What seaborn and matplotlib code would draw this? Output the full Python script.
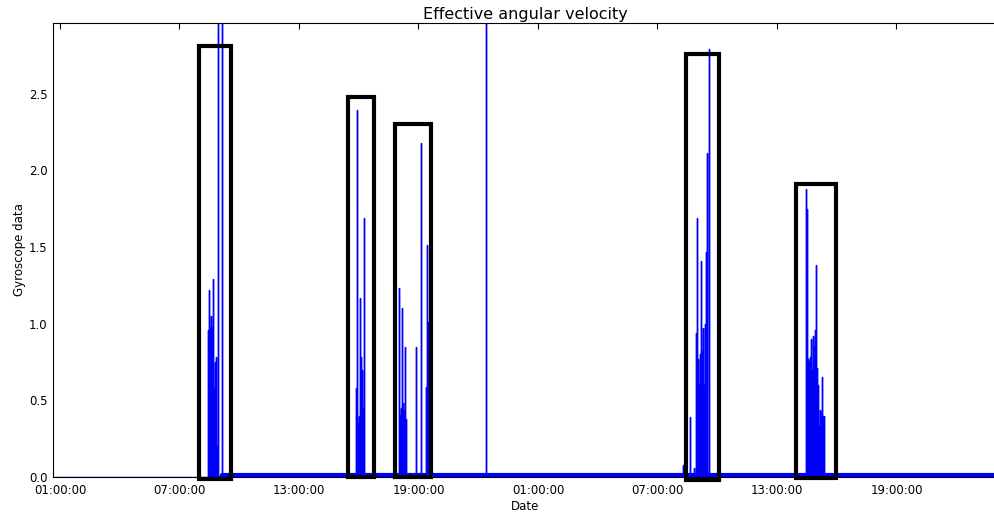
import numpy as np
import pandas as pd
import matplotlib
matplotlib.use("Agg")
import matplotlib.pyplot as plt
import matplotlib.dates as mdates
from matplotlib.patches import Rectangle
import seaborn as sns

# ---------------- data (hours after 01:00 of day 1) ----------------
start = pd.Timestamp("2016-01-01 01:00:00")

c1_t = [7.43, 7.46, 7.49, 7.52, 7.55, 7.58, 7.61, 7.64, 7.67, 7.70, 7.73, 7.76, 7.79, 7.82, 7.85, 7.88, 7.96, 8.13]
c1_v = [0.96, 1.22, 1.04, 0.97, 0.96, 1.05, 0.52, 0.97, 1.29, 0.90, 0.58, 0.60, 0.75, 0.78, 0.50, 0.20, 3.20, 3.20]

c2_t = [14.88, 14.92, 14.95, 14.99, 15.02, 15.05, 15.09, 15.12, 15.16, 15.19, 15.23, 15.26]
c2_v = [0.58, 2.39, 0.35, 0.35, 0.40, 1.17, 1.17, 0.78, 0.70, 0.35, 0.45, 1.69]

c3_t = [17.02, 17.06, 17.09, 17.13, 17.16, 17.19, 17.23, 17.26, 17.29, 17.32, 17.36, 17.39,
        17.90, 18.13, 18.36, 18.41, 18.45, 18.50]
c3_v = [1.23, 0.36, 0.40, 0.45, 0.48, 1.10, 0.48, 0.40, 0.43, 0.85, 0.38, 0.30,
        0.85, 2.18, 0.59, 0.59, 1.51, 1.01]

single_t = [21.37]
single_v = [3.20]

c4_t = [31.28, 31.61, 31.65, 31.86, 31.96, 32.00, 32.03, 32.07, 32.10, 32.14, 32.17, 32.21,
        32.24, 32.28, 32.31, 32.35, 32.38, 32.42, 32.45, 32.48, 32.59]
c4_v = [0.08, 0.39, 0.33, 0.06, 0.94, 1.69, 0.77, 0.60, 0.58, 0.80, 1.41, 0.60,
        0.82, 0.97, 0.96, 0.60, 1.00, 1.47, 0.97, 2.11, 2.79]

c5_t = [37.45, 37.48, 37.51, 37.55, 37.58, 37.62, 37.65, 37.69, 37.72, 37.76, 37.79, 37.83,
        37.86, 37.90, 37.94, 37.97, 38.00, 38.04, 38.07, 38.10, 38.14, 38.17, 38.21, 38.24,
        38.28, 38.31, 38.35, 38.37]
c5_v = [0.30, 1.88, 1.75, 0.70, 0.77, 0.75, 0.78, 0.90, 0.85, 0.70, 0.72, 0.92,
        0.85, 0.96, 1.38, 0.70, 0.71, 0.60, 0.55, 0.33, 0.44, 0.32, 0.42, 0.30,
        0.65, 0.40, 0.33, 0.40]

# resting level of the sensor
quiet_t = [-0.35, 8.13]
quiet_v = [0.003, 0.003]
noise_t = [8.13, 47.10]
noise_v = [0.012, 0.012]
spike_base = 0.005

# highlighted activity windows
box_t0 = [6.97, 14.45, 16.81, 31.41, 36.98]
box_t1 = [8.58, 15.76, 18.62, 33.07, 38.99]
box_y0 = [-0.013, 0.0, 0.0, -0.02, -0.007]
box_y1 = [2.81, 2.48, 2.30, 2.76, 1.91]

x_ticks_h = [0, 6, 12, 18, 24, 30, 36, 42]
y_ticks = [0.0, 0.5, 1.0, 1.5, 2.0, 2.5]

# ---------------- build tables ----------------
def to_time(h):
    return start + pd.to_timedelta(np.asarray(h, dtype=float), unit="h")

all_t = c1_t + c2_t + c3_t + single_t + c4_t + c5_t
all_v = c1_v + c2_v + c3_v + single_v + c4_v + c5_v
rows_t, rows_v = [], []
for t, v in zip(all_t, all_v):
    rows_t += [t, t, t]
    rows_v += [spike_base, v, spike_base]
spikes = pd.DataFrame({"time": to_time(rows_t), "value": rows_v})
quiet = pd.DataFrame({"time": to_time(quiet_t), "value": quiet_v})
noise = pd.DataFrame({"time": to_time(noise_t), "value": noise_v})

# ---------------- plot ----------------
sns.set_style("white")
plt.rcParams["font.family"] = ["DejaVu Sans"]
plt.rcParams["text.color"] = "black"
plt.rcParams["axes.labelcolor"] = "black"

fig = plt.figure(figsize=(9.94, 5.13), dpi=100)
ax = fig.add_axes([53 / 994, 36 / 513, (998 - 53) / 994, 454 / 513])

sns.lineplot(data=quiet, x="time", y="value", ax=ax, color="blue", lw=1,
             estimator=None, sort=False)
sns.lineplot(data=noise, x="time", y="value", ax=ax, color="blue", lw=3,
             estimator=None, sort=False)
sns.lineplot(data=spikes, x="time", y="value", ax=ax, color="blue", lw=1,
             estimator=None, sort=False)

for a, b, y0, y1 in zip(box_t0, box_t1, box_y0, box_y1):
    x0 = mdates.date2num(to_time([a])[0])
    x1 = mdates.date2num(to_time([b])[0])
    ax.add_patch(Rectangle((x0, y0), x1 - x0, y1 - y0, fill=False,
                           edgecolor="black", lw=3, clip_on=False, zorder=5))

ax.set_xlim(to_time([-0.35])[0], to_time([47.10])[0])
ax.set_ylim(0, 2.96)
ax.set_xticks(to_time(x_ticks_h))
ax.xaxis.set_major_formatter(mdates.DateFormatter("%H:%M:%S"))
ax.set_yticks(y_ticks)
ax.yaxis.set_major_formatter(matplotlib.ticker.FormatStrFormatter("%.1f"))

ax.tick_params(direction="in", top=True, right=False, length=4, width=0.8,
               labelsize=8.5, colors="black")
ax.tick_params(axis="x", pad=5)
ax.tick_params(axis="y", pad=4)
for s in ax.spines.values():
    s.set_color("black")
    s.set_linewidth(0.8)

ax.set_title("Effective angular velocity", fontsize=11.5, pad=3, color="black")
ax.set_xlabel("Date", fontsize=8.5, labelpad=2)
ax.set_ylabel("Gyroscope data", fontsize=8.5, labelpad=2)

fig.savefig("out.png", dpi=100)
